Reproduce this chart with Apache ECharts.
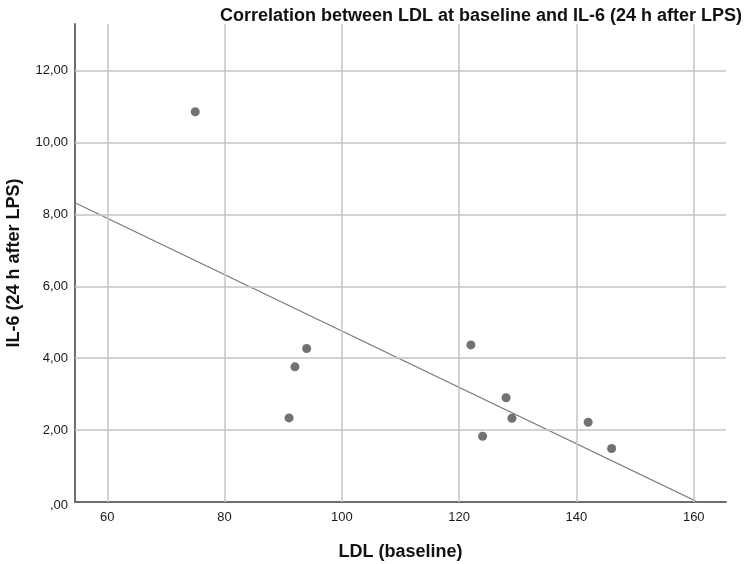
<!DOCTYPE html>
<html>
<head>
<meta charset="utf-8">
<script src="https://cdn.jsdelivr.net/npm/echarts@6/dist/echarts.min.js"></script>
<style>html,body{margin:0;padding:0;background:#fff}#c{width:750px;height:564px}</style>
</head>
<body>
<div id="c"></div>
<script>
var ldl = [75, 91, 92, 94, 122, 124, 128, 129, 142, 146];
var il6 = [10.86, 2.34, 3.76, 4.27, 4.37, 1.83, 2.90, 2.33, 2.22, 1.49];
var xTicks = [60, 80, 100, 120, 140, 160];
var yTicks = [0, 2, 4, 6, 8, 10, 12];
var titleText = 'Correlation between LDL at baseline and IL-6 (24 h after LPS)';
var xName = 'LDL (baseline)';
var yName = 'IL-6 (24 h after LPS)';

var xMin = 54.5, xMax = 165.5, yMin = 0, yMax = 13.3;

// least squares fit line
var n = ldl.length, mx = 0, my = 0;
for (var i = 0; i < n; i++) { mx += ldl[i]; my += il6[i]; }
mx /= n; my /= n;
var sxy = 0, sxx = 0;
for (var i = 0; i < n; i++) { sxy += (ldl[i]-mx)*(il6[i]-my); sxx += (ldl[i]-mx)*(ldl[i]-mx); }
var slope = sxy / sxx, icpt = my - slope * mx;
var fit = [[xMin, icpt + slope*xMin], [xMax, icpt + slope*xMax]];

var pts = ldl.map(function(x, i){ return [x, il6[i]]; });

function fmtY(v){
  var s = v.toFixed(2).replace('.', ',');
  if (s.indexOf('0,') === 0) s = s.substring(1);
  return s;
}

var FF = '"Liberation Sans", Arial, sans-serif';
var chart = echarts.init(document.getElementById('c'), null, {renderer:'canvas'});
chart.setOption({
  animation: false,
  backgroundColor: '#fff',
  title: {
    text: titleText,
    left: 476, top: 2, textAlign: 'center',
    textStyle: {fontFamily: FF, fontSize: 18, fontWeight: 'bold', color: '#111'}
  },
  grid: {left: 75, right: 24, top: 24, bottom: 62, containLabel: false, outerBoundsMode: 'none'},
  xAxis: {
    type: 'value', min: xMin, max: xMax,
    name: xName, nameLocation: 'middle', nameGap: 41,
    nameTextStyle: {fontFamily: FF, fontSize: 18, fontWeight: 'bold', color: '#111'},
    axisLine: {show: true, onZero: false, lineStyle: {color: '#6e6e6e', width: 2}},
    axisTick: {show: false},
    splitLine: {show: false},
    axisLabel: {show: false}
  },
  yAxis: {
    type: 'value', min: yMin, max: yMax,
    name: yName, nameLocation: 'middle', nameGap: 52,
    nameTextStyle: {fontFamily: FF, fontSize: 18, fontWeight: 'bold', color: '#111'},
    axisLine: {show: true, onZero: false, lineStyle: {color: '#6e6e6e', width: 2}},
    axisTick: {show: false},
    splitLine: {show: false},
    axisLabel: {show: false}
  },
  series: [
    {
      type: 'line', data: fit, symbol: 'none', clip: true, silent: true,
      lineStyle: {color: '#7a7a7a', width: 1.2}, z: 3,
      markLine: {
        silent: true, symbol: 'none', animation: false,
        label: {show: false},
        lineStyle: {color: '#c4c4c4', width: 1.5, type: 'solid'},
        data: xTicks.map(function(t){ return {xAxis: t}; }).concat(
              yTicks.filter(function(t){return t>0;}).map(function(t){ return {yAxis: t}; }))
      }
    },
    {
      type: 'scatter', data: pts, symbol: 'circle', symbolSize: 9,
      itemStyle: {color: '#4f4f4f'}, z: 4
    }
  ]
});

// tick labels placed through the library's scales
var g = [];
xTicks.forEach(function(t){
  var p = chart.convertToPixel({gridIndex:0}, [t, yMin]);
  g.push({type:'text', x: p[0], y: p[1] + 15, style:{text: String(t), align:'center', verticalAlign:'middle',
    font: '13px ' + FF, fill:'#1a1a1a'}});
});
yTicks.forEach(function(t){
  var p = chart.convertToPixel({gridIndex:0}, [xMin, t]);
  g.push({type:'text', x: p[0] - 7, y: p[1] + (t===0?3:0), style:{text: fmtY(t), align:'right', verticalAlign:'middle',
    font: '13px ' + FF, fill:'#1a1a1a'}});
});
chart.setOption({graphic: g});
</script>
</body>
</html>
